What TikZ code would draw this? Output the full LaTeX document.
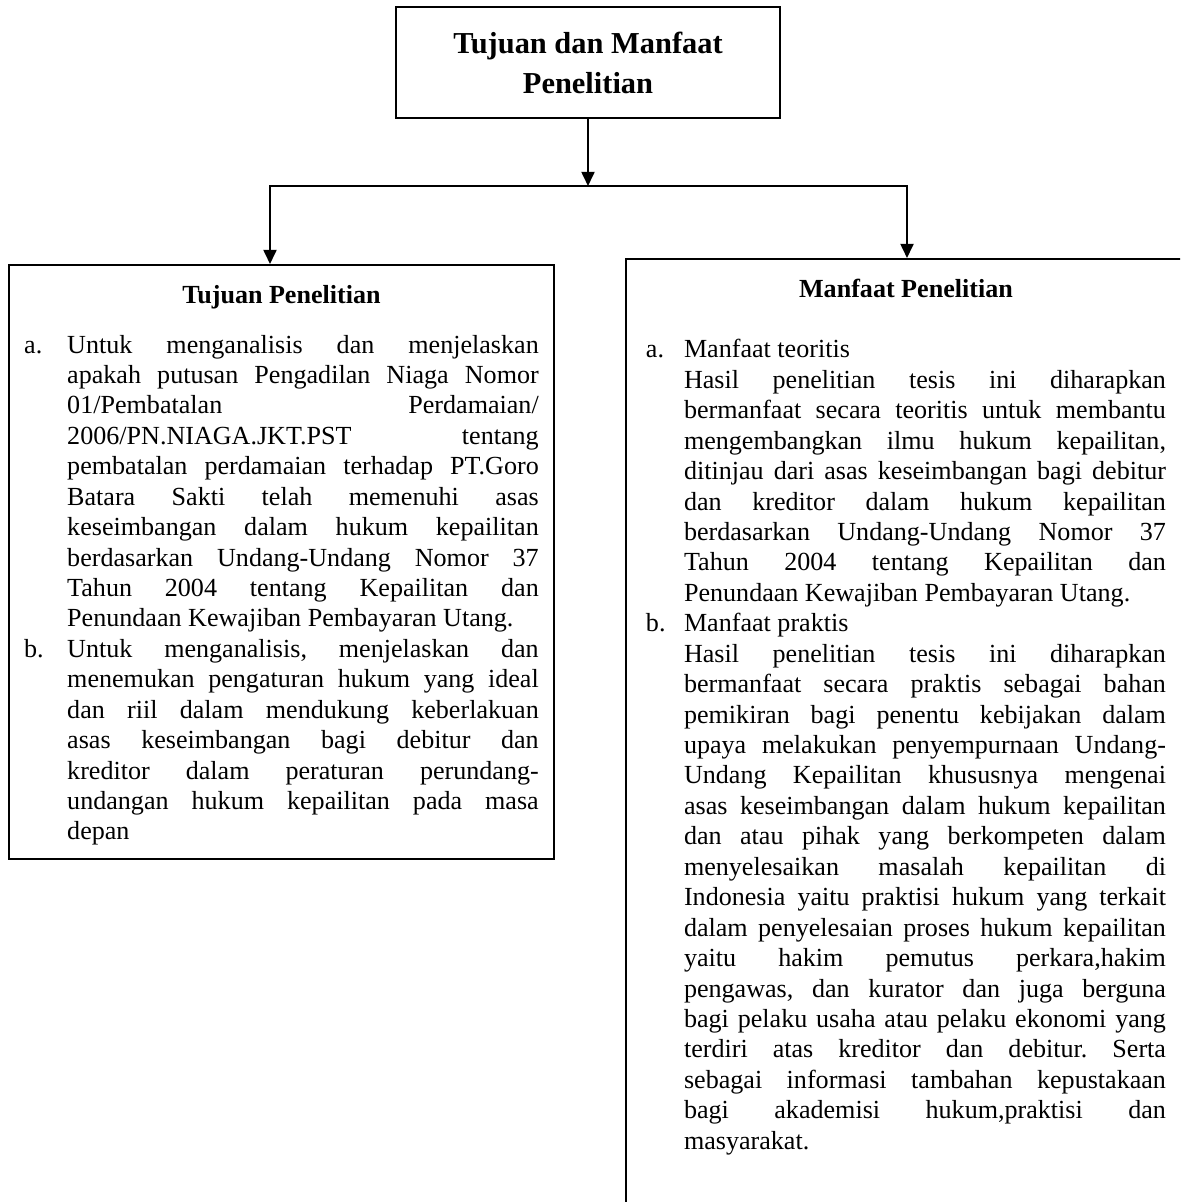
\documentclass[tikz,border=0pt]{standalone}
\usepackage{fontspec}
\setmainfont{Liberation Serif}
\usetikzlibrary{arrows.meta}

\newcommand{\butir}[3]{\par\noindent\hangindent=#1\hangafter=1\makebox[#1][l]{#2}#3\par}
\newcommand{\isian}{\fontsize{12}{14}\selectfont\frenchspacing\hbadness=10000\tolerance=10000\hyphenpenalty=10000}

\tikzstyle{kotak} = [draw, line width=0.9pt, inner xsep=7pt, inner ysep=7.7pt, anchor=north west]
\tikzstyle{judul} = [draw, line width=0.9pt, align=center, minimum width=176.6pt, minimum height=51pt, font=\fontsize{14}{18.4}\selectfont\bfseries]
\tikzstyle{panah} = [line width=0.9pt, -{Triangle[width=6pt,length=6.5pt]}]

\begin{document}
\begin{tikzpicture}[x=0.46pt, y=-0.46pt]
\useasboundingbox (0,0) rectangle (1180,1202);
\clip (0,0) rectangle (1180,1202);

\node[judul] (judul) at (588,62.5) {Tujuan dan Manfaat\\Penelitian};

\node[kotak] (tujuan) at (8,264) {\parbox[t][258pt][t]{236.7pt}{\isian
    {\centering\strut\textbf{Tujuan Penelitian}\par}
    \vspace{9pt}
    \butir{19.8pt}{a.}{Untuk menganalisis dan menjelaskan\linebreak
        apakah putusan Pengadilan Niaga Nomor\linebreak
        01/Pembatalan Perdamaian/\linebreak
        2006/PN.NIAGA.JKT.PST tentang\linebreak
        pembatalan perdamaian terhadap PT.Goro\linebreak
        Batara Sakti telah memenuhi asas\linebreak
        keseimbangan dalam hukum kepailitan\linebreak
        berdasarkan Undang-Undang Nomor 37\linebreak
        Tahun 2004 tentang Kepailitan dan\linebreak
        Penundaan Kewajiban Pembayaran Utang.}
    \butir{19.8pt}{b.}{Untuk menganalisis, menjelaskan dan\linebreak
        menemukan pengaturan hukum yang ideal\linebreak
        dan riil dalam mendukung keberlakuan\linebreak
        asas keseimbangan bagi debitur dan\linebreak
        kreditor dalam peraturan perundang-\linebreak
        undangan hukum kepailitan pada masa\linebreak
        depan}}};

\node[kotak, inner xsep=9.2pt] (manfaat) at (625,258) {\parbox[t][424.6pt][t]{239.2pt}{\isian
    {\centering\strut\textbf{Manfaat Penelitian}\par}
    \vspace{14pt}
    \butir{17.5pt}{a.}{Manfaat teoritis\newline
        Hasil penelitian tesis ini diharapkan\linebreak
        bermanfaat secara teoritis untuk membantu\linebreak
        mengembangkan ilmu hukum kepailitan,\linebreak
        ditinjau dari asas keseimbangan bagi debitur\linebreak
        dan kreditor dalam hukum kepailitan\linebreak
        berdasarkan Undang-Undang Nomor 37\linebreak
        Tahun 2004 tentang Kepailitan dan\linebreak
        Penundaan Kewajiban Pembayaran Utang.}
    \butir{17.5pt}{b.}{Manfaat praktis\newline
        Hasil penelitian tesis ini diharapkan\linebreak
        bermanfaat secara praktis sebagai bahan\linebreak
        pemikiran bagi penentu kebijakan dalam\linebreak
        upaya melakukan penyempurnaan Undang-\linebreak
        Undang Kepailitan khususnya mengenai\linebreak
        asas keseimbangan dalam hukum kepailitan\linebreak
        dan atau pihak yang berkompeten dalam\linebreak
        menyelesaikan masalah kepailitan di\linebreak
        Indonesia yaitu praktisi hukum yang terkait\linebreak
        dalam penyelesaian proses hukum kepailitan\linebreak
        yaitu hakim pemutus perkara,hakim\linebreak
        pengawas, dan kurator dan juga berguna\linebreak
        bagi pelaku usaha atau pelaku ekonomi yang\linebreak
        terdiri atas kreditor dan debitur. Serta\linebreak
        sebagai informasi tambahan kepustakaan\linebreak
        bagi akademisi hukum,praktisi dan\linebreak
        masyarakat.}}};

\coordinate (kiri) at (270,186);
\coordinate (kanan) at (907,186);
\draw[panah] (judul.south) -- (judul.south |- kiri);
\draw[line width=0.9pt, line cap=rect] (kiri) -- (kanan);
\draw[panah] (kiri) -- (kiri |- tujuan.north);
\draw[panah] (kanan) -- (kanan |- manfaat.north);
\end{tikzpicture}
\end{document}
